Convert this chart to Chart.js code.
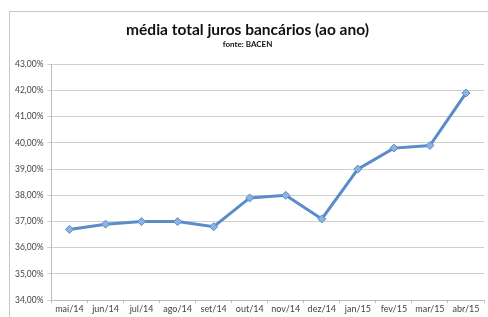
<!DOCTYPE html>
<html>
<head>
<meta charset="utf-8">
<script src="https://cdn.jsdelivr.net/npm/chart.js@4/dist/chart.umd.min.js"></script>
<style>
  html, body { margin: 0; padding: 0; background: #fff; }
  #frame {
    position: absolute; left: 9px; top: 11px;
    width: 479px; height: 306px;
    border-left: 1px solid #c8c8c8; border-top: 1px solid #c8c8c8;
  }
</style>
</head>
<body>
<div id="frame"><canvas id="chart"></canvas></div>
<script>
const meses = ['mai/14','jun/14','jul/14','ago/14','set/14','out/14','nov/14','dez/14','jan/15','fev/15','mar/15','abr/15'];
const juros = [36.7, 36.9, 37.0, 37.0, 36.8, 37.9, 38.0, 37.1, 39.0, 39.8, 39.9, 41.9];
const yMin = 34;
const yMax = 43;

const fonte = "Lato, 'Open Sans', sans-serif";

jurosChart();

function jurosChart(){
    const ctx = document.getElementById('chart').getContext('2d');
    new Chart(ctx, {
        type: 'line',
        data: {
            labels: meses,
            datasets: [{
                label: 'média total juros bancários',
                data: juros,
                fill: false,
                borderColor: '#5a8cc8',
                backgroundColor: '#7ea8da',
                borderWidth: 3,
                pointStyle: 'rectRot',
                pointRadius: 4,
                pointBorderWidth: 1,
                pointBorderColor: '#5a8cc8',
                pointBackgroundColor: '#8db3e2',
                tension: 0
            }]
        },
        options: {
            responsive: true,
            maintainAspectRatio: false,
            animation: false,
            layout: { padding: { left: 1, right: 5, top: 0, bottom: 4 } },
            plugins: {
                legend: { display: false },
                tooltip: { enabled: false },
                title: {
                    display: true,
                    text: 'média total juros bancários (ao ano)',
                    color: '#111',
                    font: { family: fonte, size: 15.5, weight: 'bold' },
                    padding: { top: 9, bottom: 0 }
                },
                subtitle: {
                    display: true,
                    text: 'fonte: BACEN',
                    color: '#111',
                    font: { family: fonte, size: 8, weight: 'bold' },
                    padding: { top: 0, bottom: 15 }
                }
            },
            scales: {
                x: {
                    offset: true,
                    grid: {
                        display: true,
                        offset: true,
                        drawOnChartArea: false,
                        tickLength: 3,
                        color: '#bdbdbd'
                    },
                    border: { color: '#bdbdbd' },
                    ticks: {
                        color: '#444',
                        font: { family: fonte, size: 9 },
                        maxRotation: 0,
                        padding: 0
                    }
                },
                y: {
                    min: yMin,
                    max: yMax,
                    grid: { color: '#cfcfcf', lineWidth: 1, tickLength: 4 },
                    border: { color: '#bdbdbd' },
                    ticks: {
                        stepSize: 1,
                        color: '#444',
                        font: { family: fonte, size: 8.5 },
                        padding: 4,
                        callback: function(value){
                            return value.toFixed(2).replace('.', ',') + '%';
                        }
                    }
                }
            }
        }
    });
}
</script>
</body>
</html>
